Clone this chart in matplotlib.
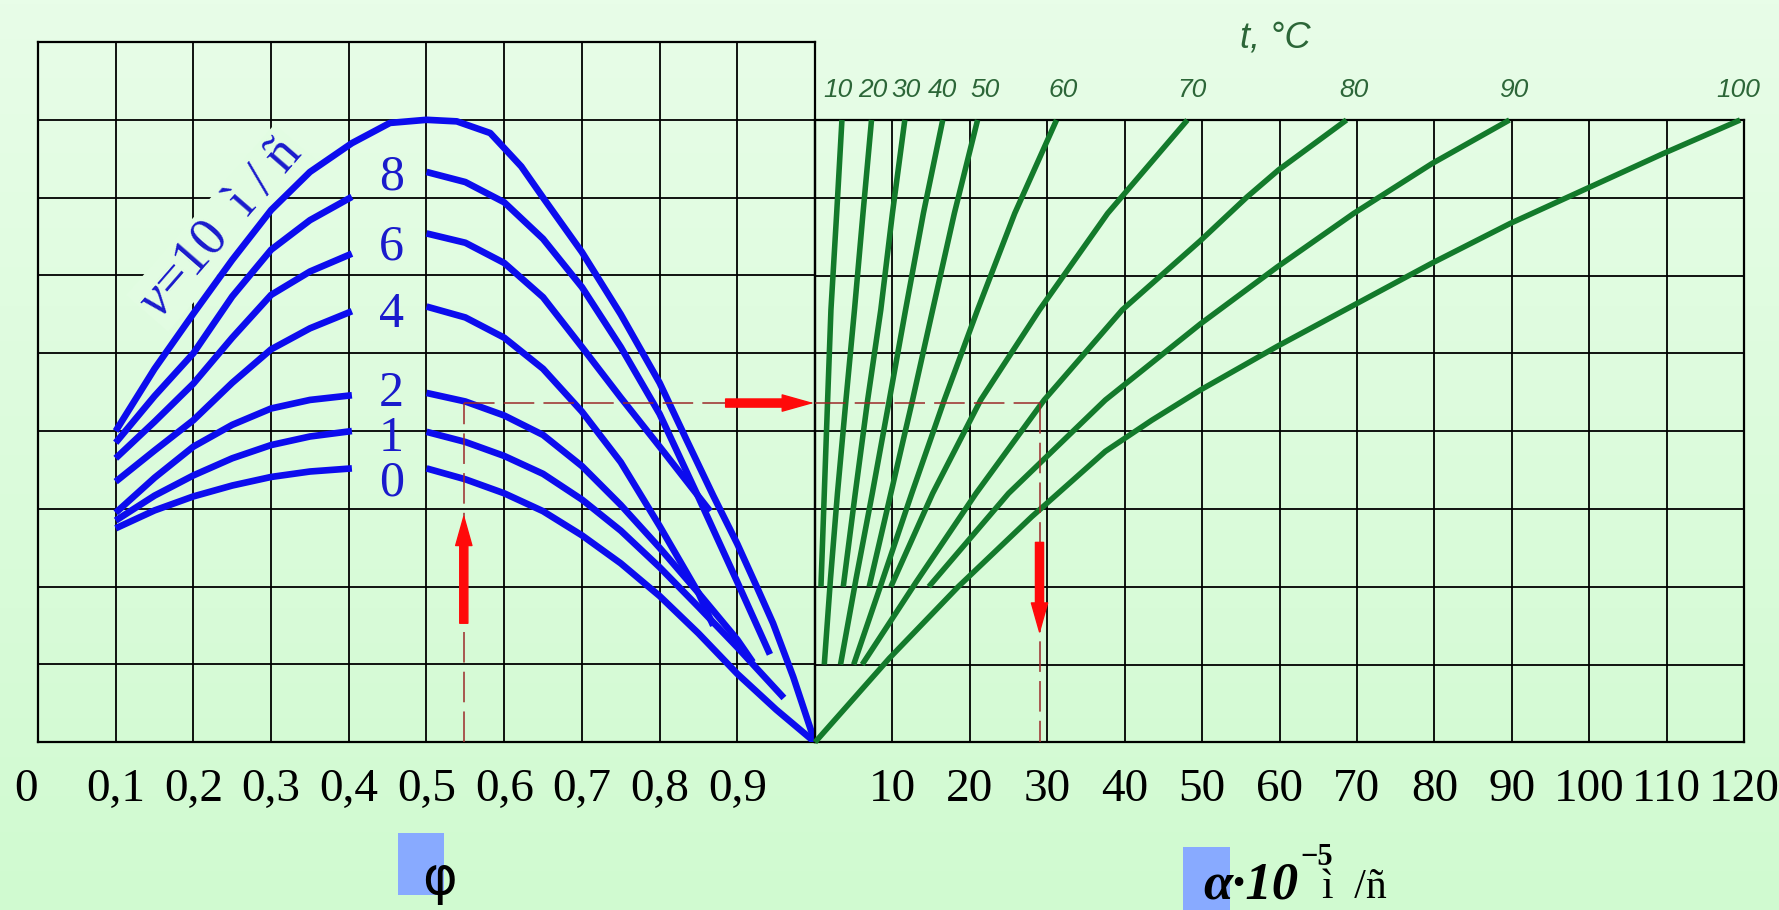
import numpy as np
import matplotlib.pyplot as plt
from matplotlib.colors import LinearSegmentedColormap
from matplotlib.patches import Rectangle

plt.rcParams['mathtext.fontset'] = 'custom'
plt.rcParams['mathtext.rm'] = 'Liberation Serif'
plt.rcParams['mathtext.it'] = 'Liberation Serif:italic'

# ---- axis ticks ----
phi_ticks = [0, 0.1, 0.2, 0.3, 0.4, 0.5, 0.6, 0.7, 0.8, 0.9]
phi_labels = ["0", "0,1", "0,2", "0,3", "0,4", "0,5", "0,6", "0,7", "0,8", "0,9"]
alpha_ticks = [10, 20, 30, 40, 50, 60, 70, 80, 90, 100, 110, 120]
alpha_labels = ["10", "20", "30", "40", "50", "60", "70", "80", "90", "100", "110", "120"]

# ---- blue family: wind speed v (left halves share phi points) ----
phi_left = [0.1, 0.15, 0.2, 0.25, 0.3, 0.35, 0.404]
v0_left = [2.75, 2.98, 3.16, 3.30, 3.41, 3.48, 3.52]
v1_left = [2.85, 3.17, 3.43, 3.65, 3.82, 3.93, 4.00]
v2_left = [2.95, 3.40, 3.80, 4.08, 4.29, 4.40, 4.46]
v4_left = [3.35, 3.75, 4.14, 4.62, 5.05, 5.32, 5.54]
v6_left = [3.65, 4.12, 4.61, 5.20, 5.75, 6.05, 6.28]
v8_left = [3.85, 4.45, 5.00, 5.73, 6.33, 6.71, 7.01]

v0_right_phi = [0.5, 0.55, 0.6, 0.65, 0.7, 0.75, 0.8, 0.85, 0.9, 0.95, 1.0]
v0_right = [3.52, 3.38, 3.20, 2.97, 2.66, 2.30, 1.88, 1.40, 0.88, 0.42, 0.0]
v1_right_phi = [0.5, 0.55, 0.6, 0.65, 0.7, 0.75, 0.8, 0.85, 0.9, 0.96]
v1_right = [3.99, 3.86, 3.68, 3.45, 3.12, 2.72, 2.25, 1.74, 1.22, 0.57]
v2_right_phi = [0.5, 0.55, 0.6, 0.65, 0.7, 0.75, 0.8, 0.85, 0.9, 0.92]
v2_right = [4.49, 4.38, 4.20, 3.95, 3.55, 3.05, 2.50, 1.92, 1.32, 1.03]
v4_right_phi = [0.5, 0.55, 0.6, 0.65, 0.7, 0.75, 0.8, 0.85, 0.869]
v4_right = [5.60, 5.46, 5.20, 4.80, 4.25, 3.60, 2.78, 1.92, 1.50]
v6_right_phi = [0.5, 0.55, 0.6, 0.65, 0.7, 0.75, 0.8, 0.865]
v6_right = [6.54, 6.42, 6.16, 5.72, 5.08, 4.43, 3.80, 2.97]
v8_right_phi = [0.5, 0.55, 0.6, 0.65, 0.7, 0.75, 0.8, 0.85, 0.9, 0.942]
v8_right = [7.33, 7.20, 6.94, 6.47, 5.85, 5.08, 4.22, 3.15, 2.06, 1.13]

v10_phi = [0.1, 0.15, 0.2, 0.25, 0.3, 0.35, 0.404, 0.453, 0.5, 0.539, 0.582, 0.622,
           0.65, 0.7, 0.75, 0.8, 0.835, 0.869, 0.9, 0.925, 0.946, 0.972, 1.0]
v10_y = [4.0, 4.8, 5.51, 6.2, 6.84, 7.33, 7.7, 7.96, 8.0, 7.98, 7.83, 7.4,
         7.0, 6.3, 5.5, 4.62, 3.88, 3.17, 2.55, 2.0, 1.53, 0.84, 0.0]

speed_labels = ["0", "1", "2", "4", "6", "8"]
speed_label_y = [3.17, 3.75, 4.32, 5.34, 6.21, 7.10]

# ---- green family: temperature t, degC ----
t_values = [10, 20, 30, 40, 50, 60, 70, 80, 90, 100]
t10_a = [3.48, 2.8, 2.06, 1.63, 1.2, 0.77]
t10_y = [8, 6.8, 5.56, 4.4, 3.2, 2]
t20_a = [7.3, 6.2, 5.1, 4.0, 2.9, 2.0, 1.2]
t20_y = [8, 6.8, 5.56, 4.4, 3.2, 2.1, 1]
t30_a = [11.6, 10.0, 8.5, 6.8, 5.2, 3.65]
t30_y = [8, 6.8, 5.56, 4.4, 3.2, 2]
t40_a = [16.5, 14.0, 11.7, 9.6, 7.4, 5.3, 3.3]
t40_y = [8, 6.8, 5.56, 4.4, 3.2, 2.1, 1]
t50_a = [21.0, 18.0, 15.2, 12.6, 9.8, 7.0]
t50_y = [8, 6.8, 5.56, 4.4, 3.2, 2]
t60_a = [31.2, 25.8, 21.0, 16.7, 12.5, 8.6, 5.0]
t60_y = [8, 6.8, 5.56, 4.4, 3.2, 2.05, 1]
t70_a = [48.1, 37.8, 29.0, 21.4, 15.2, 9.8]
t70_y = [8, 6.8, 5.56, 4.4, 3.2, 2]
t80_a = [68.65, 59.9, 55.8, 49.8, 39.7, 29.6, 20.8, 13.0, 6.1]
t80_y = [8, 7.36, 7.01, 6.45, 5.56, 4.4, 3.2, 2.05, 1]
t90_a = [89.7, 79.7, 69.6, 59.7, 49.8, 37.5, 25.0, 14.7]
t90_y = [8, 7.44, 6.8, 6.11, 5.38, 4.4, 3.2, 2]
t100_a = [119.5, 109.6, 99.7, 89.8, 79.7, 69.6, 59.7, 49.8, 43.5, 37.5, 28.0, 18.5, 9.6, 0]
t100_y = [8, 7.57, 7.12, 6.67, 6.16, 5.62, 5.09, 4.53, 4.14, 3.74, 2.9, 2.0, 1.08, 0]
t_label_a = [2.9, 7.4, 11.7, 16.5, 22.0, 32.1, 48.7, 69.6, 90.3, 119.3]

# ---- worked example (red) ----
phi_read = 0.548
y_read = 4.36
alpha_read = 29.0

blue = '#0c0cee'
blue_txt = '#1a1acc'
green = '#137a2b'
green_txt = '#2c6638'
dark_red = '#9b2a2a'

fig = plt.figure(figsize=(17.79, 9.10), dpi=100)

# light green gradient background
bg = fig.add_axes([0, 0, 1, 1], zorder=-10)
cmap = LinearSegmentedColormap.from_list('bg', ['#d0fad0', '#e8fde8'])
bg.imshow(np.linspace(0, 1, 256).reshape(-1, 1), aspect='auto', cmap=cmap,
          origin='lower', extent=[0, 1, 0, 1])
bg.axis('off')

ax1 = fig.add_axes([0.02136, 0.18429, 0.43676, 0.76956])
ax2 = fig.add_axes([0.45812, 0.18429, 0.52221, 0.68384])

for ax in (ax1, ax2):
    ax.set_facecolor('none')
    for s in ax.spines.values():
        s.set_linewidth(1.6)
        s.set_color('black')
    ax.tick_params(length=0, pad=19)
    ax.grid(True, color='black', linewidth=1.3)
    ax.set_axisbelow(True)

ax1.set_xlim(0, 1)
ax1.set_ylim(0, 9)
ax1.set_xticks(phi_ticks, phi_labels, fontsize=34, family='Liberation Serif')
ax1.get_xticklabels()[0].set_horizontalalignment('right')
ax1.set_yticks(range(10), [''] * 10)

ax2.set_xlim(0, 120)
ax2.set_ylim(0, 8)
ax2.set_xticks(alpha_ticks, alpha_labels, fontsize=34, family='Liberation Serif')
ax2.set_yticks(range(9), [''] * 9)

# blue curves
line_kw = dict(color=blue, lw=4.8, solid_capstyle='butt', solid_joinstyle='round', zorder=3)
for yy in (v0_left, v1_left, v2_left, v4_left, v6_left, v8_left):
    ax1.plot(phi_left, yy, **line_kw)
rights = [(v0_right_phi, v0_right), (v1_right_phi, v1_right), (v2_right_phi, v2_right),
          (v4_right_phi, v4_right), (v6_right_phi, v6_right), (v8_right_phi, v8_right)]
for px, yy in rights:
    ax1.plot(px, yy, **line_kw)
ax1.plot(v10_phi, v10_y, **line_kw)

for lab, yy in zip(speed_labels, speed_label_y):
    ax1.text(0.455, yy, lab, fontsize=36, family='Liberation Serif', color=blue_txt,
             ha='center', va='baseline', zorder=3)

ax1.text(0.236, 6.61, "$v$=10  ì / ñ", rotation=49, rotation_mode='anchor',
         ha='center', va='center', fontsize=39, family='Liberation Serif',
         color=blue_txt, zorder=2,
         bbox=dict(facecolor='#e2fce2', edgecolor='none', pad=2))

# green curves
greens = [(t10_a, t10_y), (t20_a, t20_y), (t30_a, t30_y), (t40_a, t40_y), (t50_a, t50_y),
          (t60_a, t60_y), (t70_a, t70_y), (t80_a, t80_y), (t90_a, t90_y), (t100_a, t100_y)]
for aa, yy in greens:
    ax2.plot(aa, yy, color=green, lw=4.0, solid_capstyle='butt', solid_joinstyle='round',
             zorder=3, clip_on=False)

for t, a in zip(t_values, t_label_a):
    ax2.text(a, 8.38, str(t), ha='center', va='center', fontsize=19, style='italic',
             family='Liberation Sans', color=green_txt, clip_on=False)

# worked example: dashed guide and red arrows
dash = dict(color=dark_red, lw=1.1, dashes=(20, 6), zorder=3.5)
ax1.plot([phi_read, phi_read], [0, y_read], **dash)
ax1.plot([phi_read, 1.0], [y_read, y_read], **dash)
ax2.plot([0, alpha_read], [y_read, y_read], **dash)
ax2.plot([alpha_read, alpha_read], [y_read, 0], **dash)

arrow = dict(arrowstyle='simple,head_length=1.6,head_width=0.9,tail_width=0.45',
             color='#ff0a0a', mutation_scale=13, shrinkA=0, shrinkB=0)
ax1.annotate('', xy=(phi_read, 2.9), xytext=(phi_read, 1.53), arrowprops=arrow, zorder=4)
ax1.annotate('', xy=(0.995, y_read), xytext=(0.885, y_read), arrowprops=arrow, zorder=4)
ax2.annotate('', xy=(alpha_read, 1.42), xytext=(alpha_read, 2.57), arrowprops=arrow, zorder=4)

# titles / axis names
fig.text(0.7167, 0.9582, "t, °C", ha='center', va='center', fontsize=26, style='italic',
         family='Liberation Sans', color=green_txt)

fig.patches.append(Rectangle((0.2237, 0.0165), 0.0259, 0.0681, transform=fig.transFigure,
                             facecolor='#88aaff', edgecolor='none', zorder=1))
fig.text(0.2473, 0.0346, "φ", fontsize=38, family='DejaVu Sans', ha='center', va='center',
         zorder=2)

fig.patches.append(Rectangle((0.665, 0.0), 0.0264, 0.0692, transform=fig.transFigure,
                             facecolor='#88aaff', edgecolor='none', zorder=1))
fig.text(0.6762, 0.013, "α·10", fontsize=38, family='Liberation Serif', style='italic',
         weight='bold', ha='left', va='baseline', zorder=2)
fig.text(0.7307, 0.0495, "−5", fontsize=22, family='Liberation Serif', weight='bold',
         ha='left', va='baseline', zorder=2)
fig.text(0.7431, 0.013, "ì  /ñ", fontsize=30, family='Liberation Serif',
         ha='left', va='baseline', zorder=2)

fig.savefig("out.png", dpi=100)
